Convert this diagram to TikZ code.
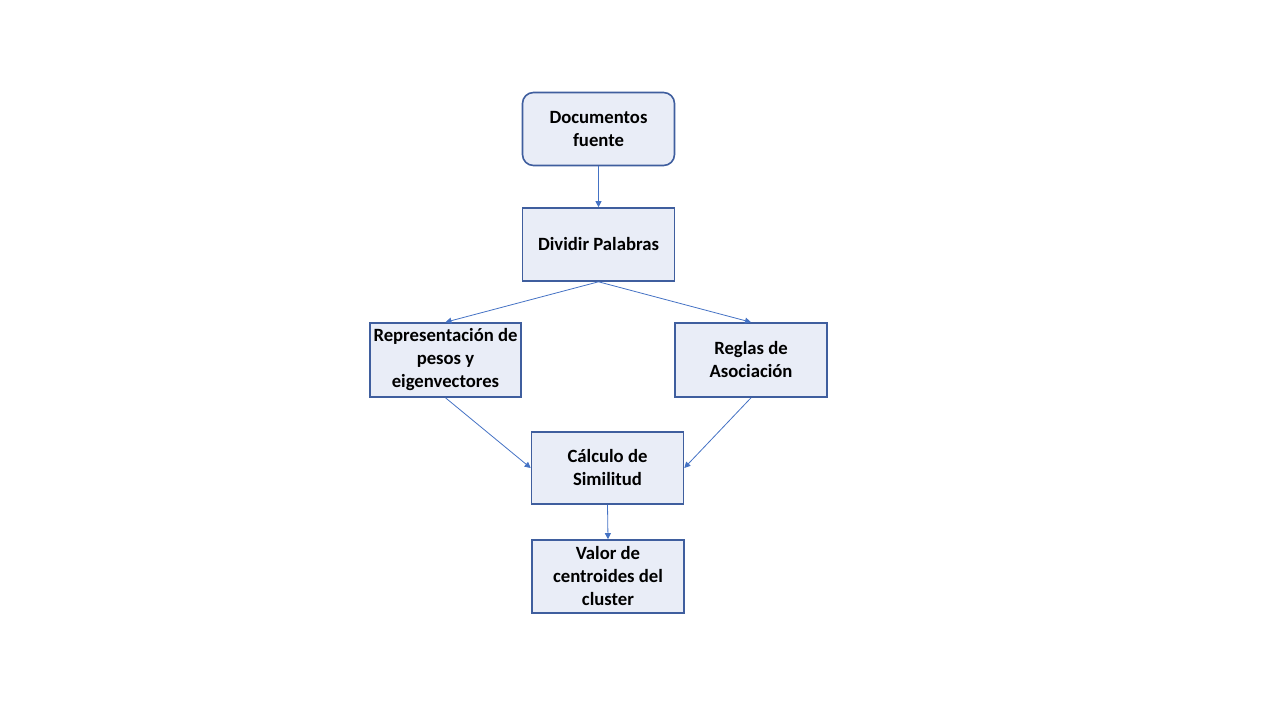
\documentclass[tikz,border=0pt]{standalone}
\usepackage{fontspec}
\setmainfont{Carlito}
\usepackage{tikz}
\usetikzlibrary{arrows.meta}
\definecolor{boxfill}{HTML}{E9EDF7}
\definecolor{boxline}{HTML}{3F5E9E}
\definecolor{arrowline}{HTML}{4472C4}
\tikzset{
	stepbox/.style={draw=boxline, fill=boxfill, line width=1.6pt, minimum width=152pt, minimum height=73pt, inner sep=1pt, align=center, font=\fontsize{18.7}{23}\selectfont\bfseries},
	link/.style={draw=arrowline, line width=0.8pt, -{Triangle[length=6pt,width=6pt]}}
}

\begin{document}
\begin{tikzpicture}[x=1pt, y=-1pt]
		%%%%% START %%%%%
		
		\useasboundingbox (0, 0) rectangle (1280, 720);
		
		\node[stepbox, rounded corners=11pt] (doc) at (598.5, 129) {Documentos\\fuente};
		\node[stepbox] (div) at (598.5, 244.5) {Dividir Palabras};
		
		\node[stepbox, minimum width=151pt, minimum height=74pt] (rep) at (445.5, 360) {Representación de\\pesos y\\eigenvectores};
		\node[stepbox, minimum height=74pt] (reg) at (751, 360) {Reglas de\\Asociación};
		
		\node[stepbox, minimum height=72pt] (calc) at (607.5, 468) {Cálculo de\\Similitud};
		\node[stepbox] (val) at (608, 576.5) {Valor de\\centroides del\\cluster};
		
		\draw[link] (doc.south) -- (div.north);
		\draw[link] (div.south) -- (rep.north);
		\draw[link] (div.south) -- (reg.north);
		\draw[link] (rep.south) -- (calc.west);
		\draw[link] (reg.south) -- (calc.east);
		\draw[link] (calc.south) -- (val.north);
		
		%%%%% END %%%%%
	\end{tikzpicture}
\end{document}
